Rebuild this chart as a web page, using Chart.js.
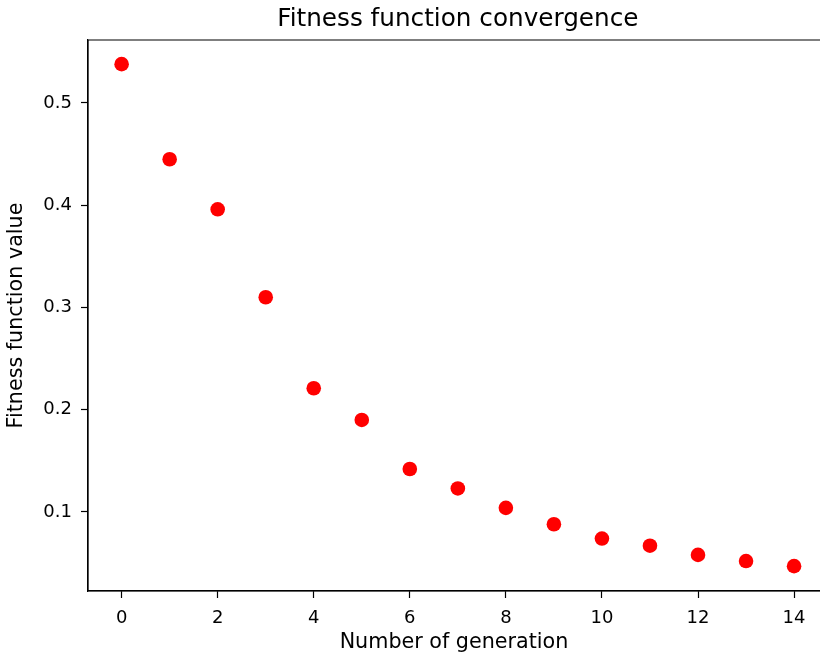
<!DOCTYPE html>
<html>
<head>
  <meta charset="utf-8">
  <title>Fitness function convergence</title>
  <script src="https://cdn.jsdelivr.net/npm/chart.js"></script>
  <style>
    html, body { margin: 0; padding: 0; background: #fff; overflow: hidden; }
    #wrap { width: 820px; height: 659px; }
  </style>
</head>
<body>
  <div id="wrap">
    <canvas id="chart" width="820" height="659"></canvas>
  </div>

  <script>
    // values
    const generations = [0, 1, 2, 3, 4, 5, 6, 7, 8, 9, 10, 11, 12, 13, 14];
    const fitness = [0.538, 0.445, 0.396, 0.310, 0.221, 0.190, 0.142, 0.123,
                     0.104, 0.088, 0.074, 0.067, 0.058, 0.052, 0.047];
    const xTicks = [0, 2, 4, 6, 8, 10, 12, 14];
    const yTicks = [0.1, 0.2, 0.3, 0.4, 0.5];
    const yTickLabels = ['0.1', '0.2', '0.3', '0.4', '0.5'];

    const FONT = 'DejaVu Sans';

    // title centred over the full axes box (which runs past the right edge),
    // plus the top/left/bottom frame lines
    const frameAndTitle = {
      id: 'frameAndTitle',
      afterDraw(chart) {
        const { ctx, chartArea } = chart;
        const xs = chart.scales.x;
        const fullRight = xs.getPixelForValue(14.7);
        ctx.save();
        ctx.strokeStyle = '#000';
        ctx.lineWidth = 1.2;
        ctx.beginPath();
        ctx.moveTo(chartArea.right, chartArea.top);
        ctx.lineTo(chartArea.left, chartArea.top);
        ctx.lineTo(chartArea.left, chartArea.bottom);
        ctx.lineTo(chartArea.right, chartArea.bottom);
        ctx.stroke();
        ctx.fillStyle = '#000';
        ctx.font = '24.7px "' + FONT + '"';
        ctx.textAlign = 'center';
        ctx.textBaseline = 'alphabetic';
        ctx.fillText('Fitness function convergence', (chartArea.left + fullRight) / 2, 26);
        ctx.restore();
      }
    };

    const tickStyle = { size: 18, family: FONT };

    new Chart(document.getElementById('chart').getContext('2d'), {
      type: 'scatter',
      data: {
        datasets: [{
          data: generations.map((g, i) => ({ x: g, y: fitness[i] })),
          backgroundColor: '#ff0000',
          borderColor: '#ff0000',
          borderWidth: 0,
          pointRadius: 7.3,
          pointHoverRadius: 7.3
        }]
      },
      options: {
        responsive: false,
        animation: false,
        layout: { autoPadding: false, padding: { top: 40, left: 0, right: 0, bottom: 0 } },
        plugins: {
          legend: { display: false },
          tooltip: { enabled: false },
          title: { display: false }
        },
        scales: {
          x: {
            type: 'linear',
            min: -0.7,
            max: 14.54,
            afterBuildTicks: s => { s.ticks = xTicks.map(v => ({ value: v })); },
            afterFit: s => { s.height = 68; s.paddingLeft = 0; s.paddingRight = 0; },
            grid: { drawOnChartArea: false, color: '#000', tickLength: 7, tickWidth: 1.2 },
            border: { display: true, color: '#000', width: 1.2 },
            ticks: { color: '#000', font: tickStyle, padding: 10, maxRotation: 0 },
            title: {
              display: true,
              text: 'Number of generation',
              color: '#000',
              font: { size: 20.7, family: FONT },
              padding: { top: 0, bottom: 4 }
            }
          },
          y: {
            type: 'linear',
            min: 0.0227,
            max: 0.5616,
            afterBuildTicks: s => { s.ticks = yTicks.map(v => ({ value: v })); },
            afterFit: s => { s.width = 88; s.paddingTop = 0; s.paddingBottom = 0; },
            grid: { drawOnChartArea: false, color: '#000', tickLength: 7, tickWidth: 1.2 },
            border: { display: true, color: '#000', width: 1.2 },
            ticks: {
              color: '#000',
              font: tickStyle,
              padding: 9,
              callback: (v, i) => yTickLabels[i]
            },
            title: {
              display: true,
              text: 'Fitness function value',
              color: '#000',
              font: { size: 20.7, family: FONT },
              padding: { top: 4, bottom: 0 }
            }
          }
        }
      },
      plugins: [frameAndTitle]
    });
  </script>
</body>
</html>
